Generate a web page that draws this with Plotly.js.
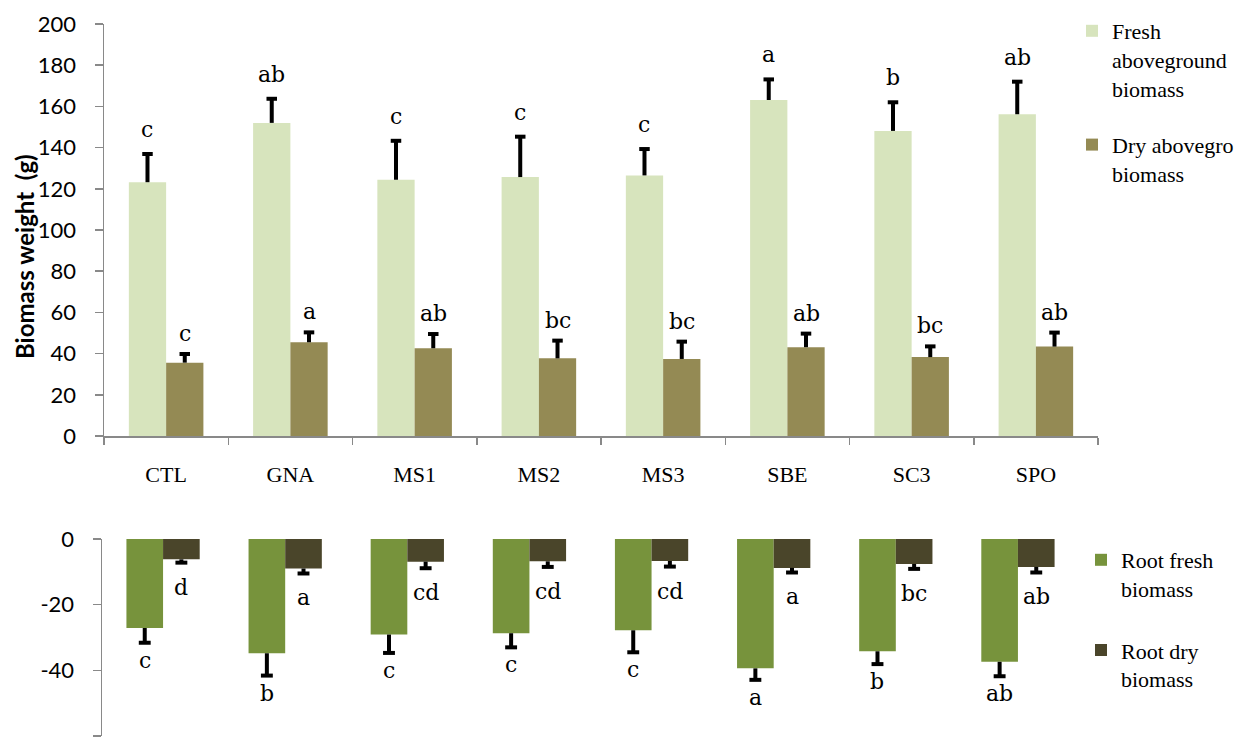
<!DOCTYPE html>
<html>
<head>
<meta charset="utf-8">
<script src="https://cdn.plot.ly/plotly-3.0.1.min.js"></script>
<style>
html,body{margin:0;padding:0;background:#fff;}
#chart{width:1247px;height:744px;}
</style>
</head>
<body>
<div id="chart"></div>
<script>
// ---- data ----
const categories = ['CTL','GNA','MS1','MS2','MS3','SBE','SC3','SPO'];

const freshAbove    = [123.2, 152.0, 124.4, 125.7, 126.5, 163.1, 148.1, 156.2];
const freshAboveErr = [13.7, 11.7, 18.9, 19.6, 12.8, 10.0, 13.9, 15.8];
const freshAboveLetters = ['c','ab','c','c','c','a','b','ab'];

const dryAbove    = [35.6, 45.5, 42.6, 37.7, 37.4, 43.1, 38.3, 43.4];
const dryAboveErr = [4.2, 4.8, 6.9, 8.6, 8.4, 6.6, 5.2, 6.8];
const dryAboveLetters = ['c','a','ab','bc','bc','ab','bc','ab'];

const rootFresh    = [-27.1, -34.8, -29.1, -28.7, -27.8, -39.4, -34.2, -37.4];
const rootFreshErr = [4.5, 6.8, 5.6, 4.3, 6.7, 3.5, 3.9, 4.4];
const rootFreshLetters = ['c','b','c','c','c','a','b','ab'];

const rootDry    = [-6.2, -9.0, -6.9, -6.8, -6.7, -8.8, -7.6, -8.5];
const rootDryErr = [1.0, 1.5, 2.0, 1.7, 1.7, 1.4, 1.5, 1.7];
const rootDryLetters = ['d','a','cd','cd','cd','a','bc','ab'];

const seriesNames = ['Fresh<br>aboveground<br>biomass', 'Dry abovegro<br>biomass',
                     'Root fresh<br>biomass', 'Root dry<br>biomass'];

const topTicks = [0,20,40,60,80,100,120,140,160,180,200];
const bottomTicks = [0,-20,-40,-60];

// ---- styles ----
const W = 1247, H = 744;
const px = v => v / W;
const py = v => 1 - v / H;
const BARGAP = 0.4;
const half = (1 - BARGAP) / 4;   // offset of each bar centre from the category centre
const zeros = categories.map(() => 0);
const axisGrey = '#898989';
const errStyle = (plus, minus) => ({type:'data', symmetric:false, array:plus, arrayminus:minus,
                                    color:'#000', thickness:4, width:0});
const tipUp = (v, e) => v.map((d, i) => d + e[i]);
const tipDown = (v, e) => v.map((d, i) => d - e[i]);

function bar(y, name, color, err, xa, ya, leg, grp) {
  return {type:'bar', x:categories, y:y, name:name, xaxis:xa, yaxis:ya,
          marker:{color:color}, error_y:err, legend:leg, legendgroup:grp, offsetgroup:grp};
}
function cap(y, xa, ya, grp, size) {
  return {type:'scatter', mode:'markers', x:categories, y:y, xaxis:xa, yaxis:ya,
          offsetgroup:grp, showlegend:false, cliponaxis:false, hoverinfo:'skip',
          marker:{symbol:'line-ew', size:size, color:'#000', line:{width:4, color:'#000'}}};
}

const traces = [
  bar(freshAbove, seriesNames[0], '#d7e4bd', errStyle(freshAboveErr, zeros), 'x', 'y', 'legend', 'a'),
  bar(dryAbove,   seriesNames[1], '#948a54', errStyle(dryAboveErr, zeros),   'x', 'y', 'legend', 'b'),
  bar(rootFresh,  seriesNames[2], '#77933c', errStyle(zeros, rootFreshErr),  'x2', 'y2', 'legend2', 'c'),
  bar(rootDry,    seriesNames[3], '#4a452a', errStyle(zeros, rootDryErr),    'x2', 'y2', 'legend2', 'd'),
  cap(tipUp(freshAbove, freshAboveErr), 'x', 'y', 'a', 7.5),
  cap(tipUp(dryAbove, dryAboveErr), 'x', 'y', 'b', 7.5),
  cap(tipDown(rootFresh, rootFreshErr), 'x2', 'y2', 'c', 8.5),
  cap(tipDown(rootDry, rootDryErr), 'x2', 'y2', 'd', 8.5)
];

const letterFont = {family:'DejaVu Serif', size:22, color:'#000'};
const annotations = [];
function addLetters(vals, errs, letters, side, xref, yref, up, shift) {
  vals.forEach((v, i) => {
    annotations.push({
      x: i + side * half, y: up ? v + errs[i] : v - errs[i],
      xref: xref, yref: yref, text: letters[i], showarrow: false,
      yanchor: up ? 'bottom' : 'top', yshift: up ? shift : -shift,
      font: letterFont
    });
  });
}
addLetters(freshAbove, freshAboveErr, freshAboveLetters, -1, 'x', 'y', true, 10);
addLetters(dryAbove, dryAboveErr, dryAboveLetters, 1, 'x', 'y', true, 6);
addLetters(rootFresh, rootFreshErr, rootFreshLetters, -1, 'x2', 'y2', false, 3);
addLetters(rootDry, rootDryErr, rootDryLetters, 1, 'x2', 'y2', false, 10);

annotations.push({
  text:'<b>Biomass weight\u00a0\u00a0(g)</b>', xref:'paper', yref:'paper', x:px(24), y:py(257),
  textangle:-90, showarrow:false, xanchor:'center', yanchor:'middle',
  font:{family:'Lato', size:24, color:'#000'}
});

const tickFont = {family:'Lato', size:22, color:'#000'};
const legendFont = {family:'Liberation Serif', size:22, color:'#000'};

const layout = {
  width: W, height: H,
  margin: {l:0, r:0, t:0, b:0, autoexpand:false},
  paper_bgcolor:'#fff', plot_bgcolor:'rgba(0,0,0,0)',
  barmode:'group', bargap:BARGAP, bargroupgap:0,
  scattermode:'group', scattergap:BARGAP,
  showlegend:true,
  xaxis: {domain:[px(104), px(1098)], anchor:'y', type:'category',
          showline:true, linecolor:axisGrey, linewidth:1.5,
          ticks:'outside', tickson:'boundaries', ticklen:7, tickcolor:axisGrey, tickwidth:1.5,
          tickfont:{family:'Liberation Serif', size:22, color:'#000'}, ticklabelstandoff:18,
          showgrid:false, zeroline:false, fixedrange:true},
  yaxis: {domain:[py(436), py(24)], anchor:'x', range:[0,200],
          tickmode:'array', tickvals:topTicks, ticktext:topTicks.map(String),
          showline:true, linecolor:axisGrey, linewidth:1.5,
          ticks:'outside', ticklen:8, tickcolor:axisGrey, tickwidth:1.5,
          tickfont:tickFont, ticklabelstandoff:14,
          showgrid:false, zeroline:false, fixedrange:true},
  xaxis2: {domain:[px(102), px(1079)], anchor:'y2', type:'category',
           showline:false, ticks:'', showticklabels:false, showgrid:false, zeroline:false},
  yaxis2: {domain:[py(736), py(539)], anchor:'x2', range:[-60,0],
           tickmode:'array', tickvals:bottomTicks, ticktext:bottomTicks.map(String),
           showline:true, linecolor:axisGrey, linewidth:1.5,
           ticks:'outside', ticklen:8, tickcolor:axisGrey, tickwidth:1.5,
           tickfont:tickFont, ticklabelstandoff:14,
           showgrid:false, zeroline:false, fixedrange:true},
  legend: {x:px(1072), y:py(10), xanchor:'left', yanchor:'top', valign:'top',
           font:legendFont, bgcolor:'rgba(0,0,0,0)', borderwidth:0,
           traceorder:'grouped', tracegroupgap:25, itemclick:false},
  legend2: {x:px(1081), y:py(539), xanchor:'left', yanchor:'top', valign:'top',
            font:legendFont, bgcolor:'rgba(0,0,0,0)', borderwidth:0,
            traceorder:'grouped', tracegroupgap:30, itemclick:false},
  annotations: annotations
};

Plotly.newPlot('chart', traces, layout, {displayModeBar:false, staticPlot:true});
</script>
</body>
</html>
